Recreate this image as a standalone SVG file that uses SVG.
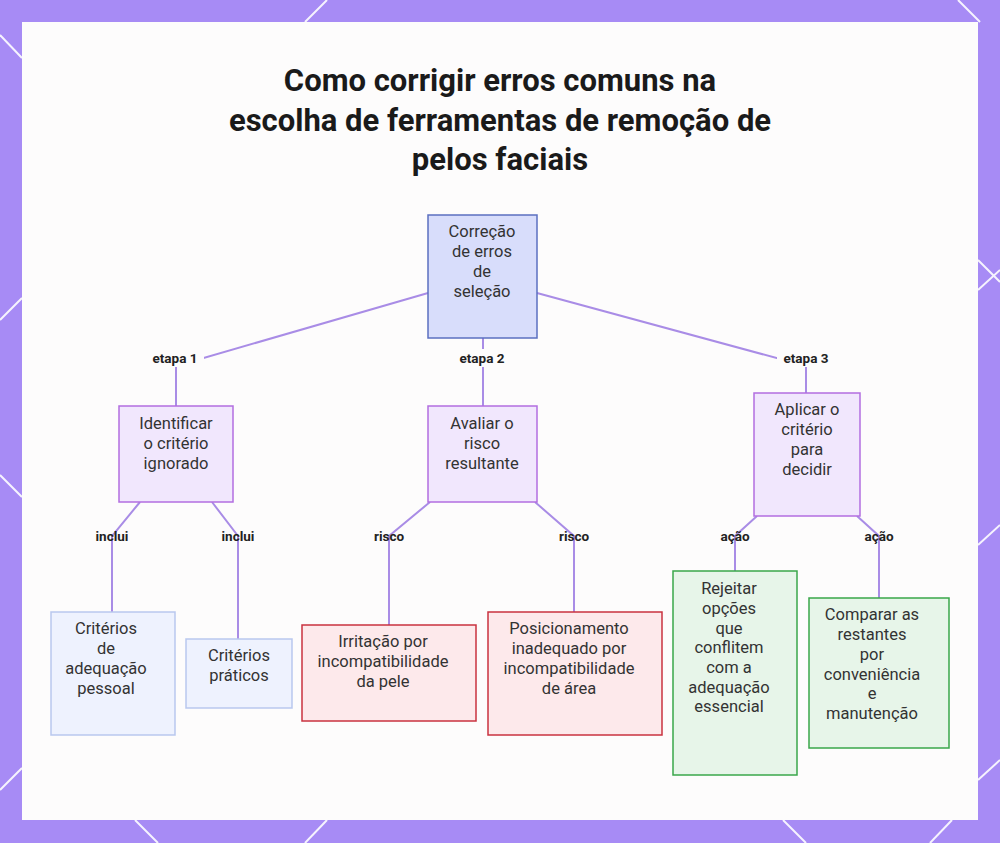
<svg xmlns="http://www.w3.org/2000/svg" width="1000" height="843" viewBox="0 0 1000 843">
<style>
.t{font-family:Roboto,"Liberation Sans",sans-serif;font-size:16.5px;fill:#333;text-anchor:middle}
.l{font-family:Roboto,"Liberation Sans",sans-serif;font-size:13.5px;font-weight:bold;fill:#222;text-anchor:middle}
.h{font-family:Roboto,"Liberation Sans",sans-serif;font-size:31px;font-weight:bold;fill:#1a1a1a;text-anchor:middle}
.c{fill:none;stroke:#a98ce6;stroke-width:2}
.root{fill:#d8ddfb;stroke:#5b6fc0;stroke-width:1.5}
.p{fill:#f1e7fd;stroke:#b26ee0;stroke-width:1.5}
.b{fill:#eef2fe;stroke:#b9c7ee;stroke-width:1.5}
.r{fill:#fde9eb;stroke:#c9323f;stroke-width:1.5}
.g{fill:#e7f5e9;stroke:#3aa64a;stroke-width:1.5}
</style>
<rect width="1000" height="843" fill="#a78bf5"/>
<g stroke="#fff" stroke-width="2" opacity="0.9">
<line x1="0" y1="35" x2="22" y2="58"/><line x1="305" y1="22" x2="327" y2="0"/><line x1="958" y1="0" x2="980" y2="22"/>
<line x1="978" y1="290" x2="1000" y2="270"/><line x1="978" y1="260" x2="1000" y2="282"/>
<line x1="0" y1="320" x2="22" y2="298"/><line x1="978" y1="780" x2="1000" y2="760"/><line x1="978" y1="545" x2="1000" y2="525"/>
<line x1="0" y1="475" x2="22" y2="497"/><line x1="0" y1="790" x2="22" y2="768"/>
<line x1="135" y1="820" x2="158" y2="843"/><line x1="305" y1="843" x2="327" y2="820"/><line x1="783" y1="820" x2="806" y2="843"/><line x1="930" y1="843" x2="952" y2="820"/>
</g>
<rect x="22" y="22" width="956" height="798" fill="#fdfcfc"/>
<text class="h" x="500" y="91">Como corrigir erros comuns na</text>
<text class="h" x="500" y="131">escolha de ferramentas de remoção de</text>
<text class="h" x="500" y="170">pelos faciais</text>
<g id="connectors">
<polyline class="c" points="428,293 176,366 176,406"/>
<polyline class="c" points="483,338 483,406"/>
<polyline class="c" points="537,293 806,366 806,393"/>
<polyline class="c" points="140,502 112,536 112,612"/>
<polyline class="c" points="212,502 238,536 238,639"/>
<polyline class="c" points="430,502 389,536 389,625"/>
<polyline class="c" points="535,502 574,536 574,612"/>
<polyline class="c" points="757,516 735,536 735,571"/>
<polyline class="c" points="857,516 879,536 879,598"/>
<g>
<rect x="146" y="349" width="58" height="18" fill="#fdfcfc"/><text class="l" x="175" y="363">etapa 1</text>
<rect x="453" y="349" width="58" height="18" fill="#fdfcfc"/><text class="l" x="482" y="363">etapa 2</text>
<rect x="777" y="349" width="58" height="18" fill="#fdfcfc"/><text class="l" x="806" y="363">etapa 3</text>
<text class="l" x="112" y="541">inclui</text><text class="l" x="238" y="541">inclui</text>
<text class="l" x="389" y="541">risco</text><text class="l" x="574" y="541">risco</text>
<text class="l" x="735" y="541">ação</text><text class="l" x="879" y="541">ação</text>
</g>
</g>
<g id="root"><rect class="root" x="428" y="215" width="109" height="123"/>
<text class="t" x="482" y="237">Correção</text><text class="t" x="482" y="257">de erros</text><text class="t" x="482" y="277">de</text><text class="t" x="482" y="297">seleção</text></g>
<g id="n1"><rect class="p" x="119" y="406" width="114" height="96"/>
<text class="t" x="176" y="429">Identificar</text><text class="t" x="176" y="449">o critério</text><text class="t" x="176" y="469">ignorado</text></g>
<g id="n2"><rect class="p" x="428" y="406" width="109" height="96"/>
<text class="t" x="482" y="429">Avaliar o</text><text class="t" x="482" y="449">risco</text><text class="t" x="482" y="469">resultante</text></g>
<g id="n3"><rect class="p" x="754" y="393" width="106" height="123"/>
<text class="t" x="807" y="415">Aplicar o</text><text class="t" x="807" y="435">critério</text><text class="t" x="807" y="455">para</text><text class="t" x="807" y="475">decidir</text></g>
<g id="n4"><rect class="b" x="51" y="612" width="124" height="123"/>
<text class="t" x="106" y="634">Critérios</text><text class="t" x="106" y="654">de</text><text class="t" x="106" y="674">adequação</text><text class="t" x="106" y="694">pessoal</text></g>
<g id="n5"><rect class="b" x="186" y="639" width="106" height="69"/>
<text class="t" x="239" y="661">Critérios</text><text class="t" x="239" y="681">práticos</text></g>
<g id="n6"><rect class="r" x="302" y="625" width="174" height="96"/>
<text class="t" x="383" y="647">Irritação por</text><text class="t" x="383" y="667">incompatibilidade</text><text class="t" x="383" y="687">da pele</text></g>
<g id="n7"><rect class="r" x="488" y="612" width="174" height="123"/>
<text class="t" x="569" y="634">Posicionamento</text><text class="t" x="569" y="654">inadequado por</text><text class="t" x="569" y="674">incompatibilidade</text><text class="t" x="569" y="694">de área</text></g>
<g id="n8"><rect class="g" x="673" y="571" width="124" height="204"/>
<text class="t" x="729" y="594">Rejeitar</text><text class="t" x="729" y="614">opções</text><text class="t" x="729" y="634">que</text><text class="t" x="729" y="653">conflitem</text><text class="t" x="729" y="673">com a</text><text class="t" x="729" y="693">adequação</text><text class="t" x="729" y="712">essencial</text></g>
<g id="n9"><rect class="g" x="809" y="598" width="140" height="150"/>
<text class="t" x="872" y="620">Comparar as</text><text class="t" x="872" y="640">restantes</text><text class="t" x="872" y="660">por</text><text class="t" x="872" y="680">conveniência</text><text class="t" x="872" y="699">e</text><text class="t" x="872" y="719">manutenção</text></g>
</svg>
